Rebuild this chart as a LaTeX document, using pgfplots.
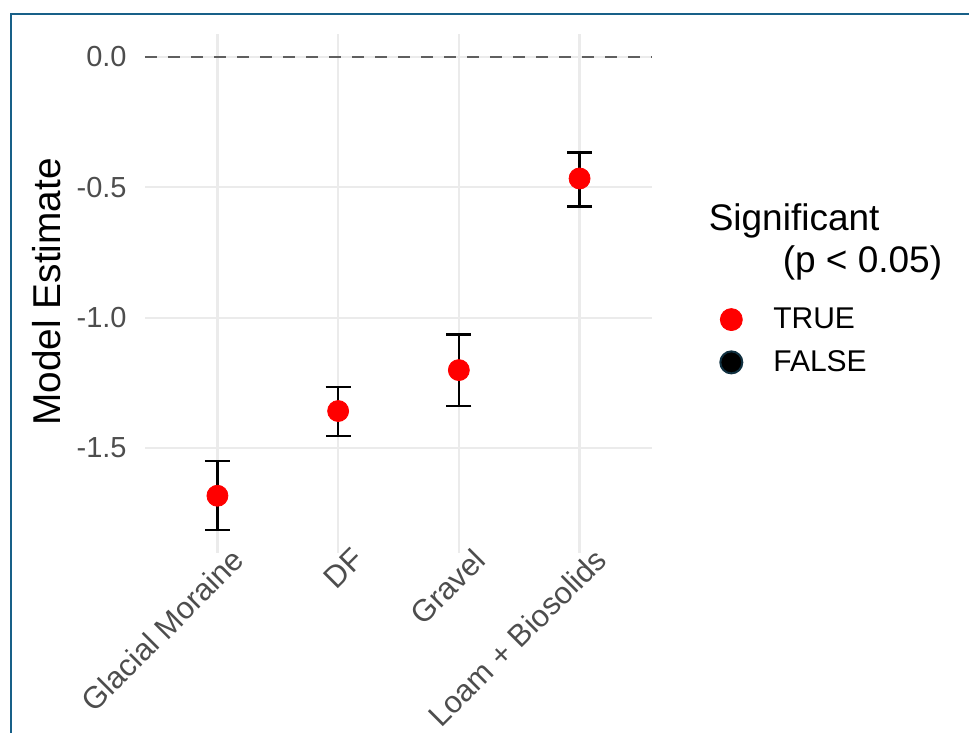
\documentclass[border=0pt]{standalone}
\usepackage{pgfplots}
\usepackage{pgfplotstable}
\pgfplotsset{compat=1.18}
\usepackage{fontspec}
\setmainfont{Liberation Sans}
\definecolor{framec}{RGB}{24,96,136}
\definecolor{gridc}{RGB}{235,235,235}
\definecolor{tickc}{RGB}{77,77,77}
\definecolor{dashc}{RGB}{95,95,95}
\definecolor{falseedge}{RGB}{16,48,64}
\newcommand{\ticksize}{\fontsize{14.5}{17}\selectfont}
\newcommand{\xticksize}{\fontsize{15.4}{18}\selectfont}
\newcommand{\legsize}{\fontsize{15}{18}\selectfont}
\newcommand{\titlesize}{\fontsize{18.5}{22}\selectfont}
\newcommand{\ylabsize}{\fontsize{19.4}{23}\selectfont}
\pgfplotstableread{
x y ep em
0 -1.683 0.133 0.132
1 -1.358 0.093 0.095
2 -1.201 0.137 0.138
3 -0.466 0.100 0.107
}\datatable
\begin{document}
\begin{tikzpicture}
\useasboundingbox (0,0) rectangle (484.5pt,-366.5pt);
\draw[framec, line width=1pt] (5.5pt,-366.5pt) -- (5.5pt,-7pt) -- (484.5pt,-7pt);
\begin{axis}[
  at={(72.5pt,-276.5pt)}, anchor=south west,
  scale only axis, width=253.5pt, height=259.5pt,
  xmin=-0.6, xmax=3.6, ymin=-1.9026, ymax=0.0882,
  axis line style={draw=none},
  major tick length=0pt,
  grid=major,
  grid style={gridc, line width=1.1pt},
  xtick={0,1,2,3},
  xticklabels={Glacial Moraine, DF, Gravel, Loam + Biosolids},
  ytick={-1.5,-1,-0.5,0},
  yticklabels={-1.5,-1.0,-0.5,0.0},
  xticklabel style={rotate=45, anchor=north east, inner sep=0pt, font=\xticksize, text=tickc, yshift=-2pt, xshift=7pt},
  yticklabel style={anchor=east, inner sep=0pt, xshift=-9pt, font=\ticksize, text=tickc},
  ylabel={Model Estimate},
  ylabel style={at={(axis description cs:-0.195,0.503)}, anchor=center, font=\ylabsize},
  clip=false,
  legend image code/.code={\draw[#1] plot coordinates {(5.5pt,0pt)}; \path[draw=none, fill=none] (0pt,0pt) (24.5pt,0pt);},
  legend cell align=left,
  legend style={at={(axis description cs:1.134,0.481)}, anchor=north west, draw=none, fill=none, inner sep=0pt, row sep=5.5pt, font=\legsize},
]
\addplot[dashc, dash pattern=on 6pt off 5.5pt, line width=1.3pt, forget plot] coordinates {(-0.6,0) (3.6,0)};
\addplot[only marks, mark=*, mark size=5.25pt, color=red, forget plot] table[x=x,y=y]{\datatable};
\addplot[draw=none, mark=none, forget plot, error bars/.cd, y dir=both, y explicit, error mark=|, error bar style={draw=black, line width=1.2pt}, error mark options={draw=black, line width=1.2pt, mark size=6.25pt}] table[x=x,y=y,y error plus=ep,y error minus=em]{\datatable};
\addlegendimage{only marks, mark=*, mark size=5.5pt, red}
\addlegendentry{TRUE}
\addlegendimage{only marks, mark=*, mark size=5.5pt, mark options={fill=black, draw=falseedge, line width=1pt}}
\addlegendentry{FALSE}
\node[anchor=base west, font=\titlesize] at (axis description cs:1.098,0.622) {Significant};
\node[anchor=base west, font=\titlesize] at (axis description cs:1.244,0.541) {(p < 0.05)};
\end{axis}
\end{tikzpicture}
\end{document}
